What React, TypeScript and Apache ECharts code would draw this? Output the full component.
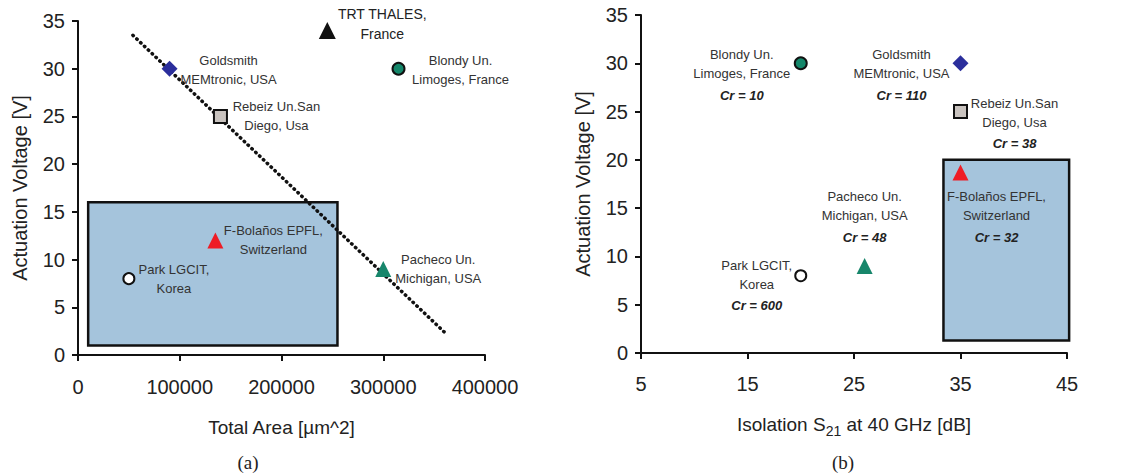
import React, { useEffect, useRef } from "react";
import * as echarts from "echarts";

// ---- Data: panel (a) ----
const devicesA = ["Goldsmith", "Rebeiz", "TRT", "Blondy", "Bolanos", "Park", "Pacheco"];
const labelsA = [
  "Goldsmith\nMEMtronic, USA",
  "Rebeiz Un.San\nDiego, Usa",
  "TRT THALES,\nFrance",
  "Blondy Un.\nLimoges, France",
  "F-Bolaños EPFL,\nSwitzerland",
  "Park LGCIT,\nKorea",
  "Pacheco Un.\nMichigan, USA",
];
const areaA = [90000, 140000, 245000, 315000, 135000, 50000, 300000];
const voltageA = [30, 25, 34, 30, 12, 8, 9];
const trendX = [54000, 363000];
const trendY = [33.5, 2.1];
const boxA = [10000, 1, 255000, 16]; // xMin, yMin, xMax, yMax

// ---- Data: panel (b) ----
const devicesB = ["Blondy", "Goldsmith", "Rebeiz", "Bolanos", "Park", "Pacheco"];
const labelsB = [
  "Blondy Un.\nLimoges, France",
  "Goldsmith\nMEMtronic, USA",
  "Rebeiz Un.San\nDiego, Usa",
  "F-Bolaños EPFL,\nSwitzerland",
  "Park LGCIT,\nKorea",
  "Pacheco Un.\nMichigan, USA",
];
const isolationB = [20, 35, 35, 35, 20, 26];
const voltageB = [30, 30, 25, 18.7, 8, 9];
const crB = [10, 110, 38, 32, 600, 48];
const boxB = [33.4, 1.3, 45.2, 20];

// ---- Tick settings ----
const yTicks = { min: 0, max: 35, interval: 5 };
const xTicksA = { min: 0, max: 400000, interval: 100000 };
const xTicksB = { min: 5, max: 45, interval: 10 };

// ---- Styles / layout ----
const markers: Record<string, any> = {
  Goldsmith: { symbol: "diamond", size: 16, color: "#2b2e9c", border: "#2b2e9c", bw: 0 },
  Rebeiz: { symbol: "rect", size: 13, color: "#c9c3bf", border: "#111", bw: 2 },
  TRT: { symbol: "triangle", size: 17, color: "#111", border: "#111", bw: 0 },
  Blondy: { symbol: "circle", size: 12, color: "#14876a", border: "#111", bw: 2 },
  Bolanos: { symbol: "triangle", size: 16, color: "#ee1c25", border: "#ee1c25", bw: 0 },
  Park: { symbol: "circle", size: 11, color: "#fff", border: "#111", bw: 2 },
  Pacheco: { symbol: "triangle", size: 16, color: "#17866b", border: "#17866b", bw: 0 },
};
const offsetsA: Record<string, number[]> = {
  Goldsmith: [59, 1], Rebeiz: [56, 0], TRT: [55, -7], Blondy: [62, 1],
  Bolanos: [58, 0], Park: [45, 0], Pacheco: [55, 0],
};
const offsetsB: Record<string, number[]> = {
  Blondy: [-59, 13], Goldsmith: [-59, 13], Rebeiz: [54, 13],
  Bolanos: [36, 46], Park: [-44, 11], Pacheco: [0, -48],
};

const FONT = "'Liberation Sans', Arial, Helvetica, sans-serif";
const AX = "#111";
const TXT = "#222";
const BOX_FILL = "#a5c4dc";
const TICK_FS = 20;

function axisCommon() {
  return {
    type: "value" as const,
    axisLine: { show: true, onZero: false, lineStyle: { color: AX, width: 2 } },
    axisTick: { show: true, inside: false, length: 6, lineStyle: { color: AX, width: 2 } },
    splitLine: { show: false },
    nameLocation: "middle" as const,
    nameTextStyle: { fontSize: 19, color: TXT, fontFamily: FONT },
  };
}

function boxSeries(box: number[], xi: number) {
  return {
    type: "custom",
    xAxisIndex: xi,
    yAxisIndex: xi,
    z: 1,
    silent: true,
    clip: false,
    encode: { x: [0, 2], y: [1, 3] },
    data: [box],
    renderItem: (_p: any, api: any) => {
      const p0 = api.coord([api.value(0), api.value(3)]);
      const p1 = api.coord([api.value(2), api.value(1)]);
      return {
        type: "rect",
        shape: { x: p0[0], y: p0[1], width: p1[0] - p0[0], height: p1[1] - p0[1] },
        style: { fill: BOX_FILL, stroke: AX, lineWidth: 2.5 },
      };
    },
  };
}

function pointItem(dev: string, x: number, y: number, text: string, offset: number[]) {
  const m = markers[dev];
  return {
    value: [x, y],
    symbol: m.symbol,
    symbolSize: m.size,
    itemStyle: { color: m.color, borderColor: m.border, borderWidth: m.bw, opacity: 1 },
    label: {
      show: true,
      position: "inside",
      offset,
      align: "center",
      verticalAlign: "middle",
      formatter: text,
    },
  };
}

const plain = (v: number) => String(v);

export default function App() {
  const ref = useRef<HTMLDivElement>(null);
  useEffect(() => {
    if (!ref.current) return;
    const chart = echarts.init(ref.current, undefined, { renderer: "svg" });

    const dataA = devicesA.map((d, i) => {
      const lines = labelsA[i].split("\n").map((l) => `{${d === "TRT" ? "t" : "n"}|${l}}`).join("\n");
      return pointItem(d, areaA[i], voltageA[i], lines, offsetsA[d]);
    });
    const dataB = devicesB.map((d, i) => {
      const lines = labelsB[i].split("\n").map((l) => `{n|${l}}`).join("\n") + `\n{c|Cr = ${crB[i]}}`;
      return pointItem(d, isolationB[i], voltageB[i], lines, offsetsB[d]);
    });

    const richA = {
      n: { fontSize: 13, lineHeight: 19, color: "#333", fontFamily: FONT },
      t: { fontSize: 14, lineHeight: 20, color: "#222", fontFamily: FONT },
    };
    const richB = {
      n: { fontSize: 13, lineHeight: 19, color: "#333", fontFamily: FONT },
      c: { fontSize: 13, lineHeight: 24, color: "#222", fontWeight: "bold", fontStyle: "italic", fontFamily: FONT },
    };

    const option: any = {
      animation: false,
      backgroundColor: "#fff",
      textStyle: { fontFamily: FONT },
      grid: [
        { left: 78, top: 21, width: 407, height: 334 },
        { left: 641, top: 15, width: 426, height: 338 },
      ],
      xAxis: [
        {
          ...axisCommon(),
          gridIndex: 0,
          ...xTicksA,
          name: "Total Area [µm^2]",
          nameGap: 63,
          axisLabel: { fontSize: TICK_FS, color: TXT, margin: 22, fontFamily: FONT, formatter: plain },
        },
        {
          ...axisCommon(),
          gridIndex: 1,
          ...xTicksB,
          name: "{a|Isolation S}{s|21}{a| at 40 GHz [dB]}",
          nameGap: 57,
          nameTextStyle: {
            color: TXT,
            fontFamily: FONT,
            rich: {
              a: { fontSize: 19, lineHeight: 28, verticalAlign: "middle", color: TXT, fontFamily: FONT },
              s: { fontSize: 14, lineHeight: 14, verticalAlign: "bottom", color: TXT, fontFamily: FONT },
            },
          },
          axisLabel: { fontSize: TICK_FS, color: TXT, margin: 21, fontFamily: FONT, formatter: plain },
        },
      ],
      yAxis: [
        {
          ...axisCommon(),
          gridIndex: 0,
          ...yTicks,
          name: "Actuation Voltage [V]",
          nameGap: 48,
          nameTextStyle: { fontSize: 20, color: TXT, fontFamily: FONT },
          axisLabel: { fontSize: TICK_FS, color: TXT, margin: 13, fontFamily: FONT, formatter: plain },
        },
        {
          ...axisCommon(),
          gridIndex: 1,
          ...yTicks,
          name: "Actuation Voltage [V]",
          nameGap: 48,
          nameTextStyle: { fontSize: 20, color: TXT, fontFamily: FONT },
          axisLabel: { fontSize: TICK_FS, color: TXT, margin: 13, fontFamily: FONT, formatter: plain },
        },
      ],
      series: [
        boxSeries(boxA, 0),
        boxSeries(boxB, 1),
        {
          type: "line",
          xAxisIndex: 0,
          yAxisIndex: 0,
          z: 2,
          symbol: "none",
          silent: true,
          data: trendX.map((x, i) => [x, trendY[i]]),
          lineStyle: { color: "#111", width: 3.5, type: [0.5, 4.8], cap: "round" },
        },
        {
          type: "scatter",
          xAxisIndex: 0,
          yAxisIndex: 0,
          z: 3,
          data: dataA,
          label: { rich: richA },
        },
        {
          type: "scatter",
          xAxisIndex: 1,
          yAxisIndex: 1,
          z: 3,
          data: dataB,
          label: { rich: richB },
        },
      ],
      graphic: [
        {
          type: "text",
          x: 248,
          y: 462,
          style: { text: "(a)", font: "19px 'Liberation Serif', serif", fill: TXT, align: "center", verticalAlign: "middle" },
        },
        {
          type: "text",
          x: 843,
          y: 462,
          style: { text: "(b)", font: "19px 'Liberation Serif', serif", fill: TXT, align: "center", verticalAlign: "middle" },
        },
      ],
    };
    chart.setOption(option);
    return () => chart.dispose();
  }, []);
  return (
    <div
      ref={ref}
      style={{ position: "absolute", left: 0, top: 0, width: 1137, height: 473, background: "#fff" }}
    />
  );
}
